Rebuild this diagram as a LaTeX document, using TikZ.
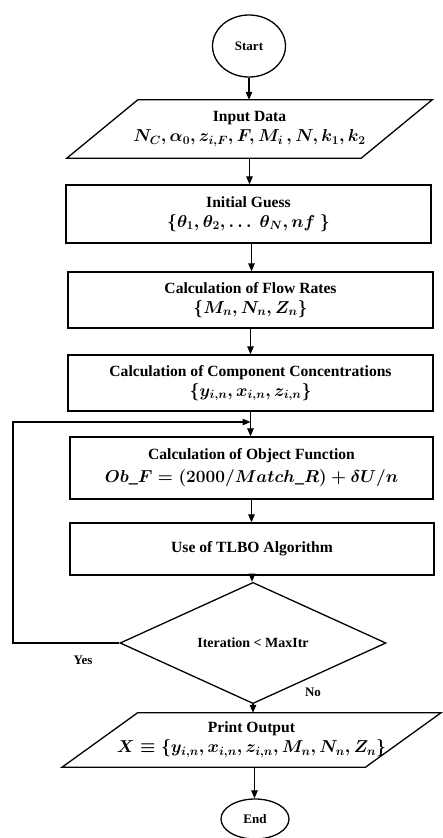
\documentclass[tikz,border=0pt]{standalone}
\usepackage{fontspec}
\setmainfont{Liberation Serif}
\usetikzlibrary{shapes.geometric,arrows.meta,calc}
\newcommand\mth[1]{{\fontsize{18}{20}\selectfont$#1$}}
\begin{document}
\begin{tikzpicture}[x=1pt,y=-1pt,
  every node/.style={font=\fontsize{15.6}{18}\selectfont\bfseries\boldmath},
  box/.style={draw,line width=1.3pt,minimum width=365pt,align=center,inner sep=2pt},
  io/.style={minimum width=294pt,align=center,inner sep=2pt},
  term/.style={draw,ellipse,line width=1.3pt,inner sep=0pt,font=\fontsize{13}{15}\selectfont\bfseries},
  arr/.style={line width=1.2pt,-{Triangle[length=8pt,width=6.5pt]}},
  lbl/.style={font=\fontsize{13}{15}\selectfont\bfseries}]
\useasboundingbox (0,0) rectangle (442,838);
\node[term,minimum width=73pt,minimum height=62pt] (start) at (249,46) {Start};
\node[io,minimum height=58pt] (input) at (249.5,129) {Input Data\\[2pt]\mth{N_C, \alpha_0, z_{i,F}, F, M_i\,, N, k_1, k_2}};
\draw[line width=1.3pt] ($(input.south west)+(-35.5,0)$) -- ($(input.north west)+(35.5,0)$) -- ($(input.north east)+(35.5,0)$) -- ($(input.south east)+(-35.5,0)$) -- cycle;
\node[box,minimum height=58pt] (guess) at (248.5,214) {Initial Guess\\[2pt]\mth{\{\theta_1, \theta_2, \ldots\ \theta_N, nf\ \}}};
\node[box,minimum height=56pt] (flow) at (250.5,300) {Calculation of Flow Rates\\[2pt]\mth{\{M_n, N_n, Z_n\}}};
\node[box,minimum height=56pt] (conc) at (250.5,383) {Calculation of Component Concentrations\\[2pt]\mth{\{y_{i,n}, x_{i,n}, z_{i,n}\}}};
\node[box,minimum height=62pt,minimum width=363pt] (objf) at (251.5,468) {Calculation of Object Function\\[5pt]\mth{Ob\_F = (2000/Match\_R) + \delta U/n}};
\node[box,minimum height=52pt,minimum width=364pt] (tlbo) at (252,549) {Use of TLBO Algorithm};
\node[draw,diamond,line width=1.3pt,minimum width=266pt,minimum height=88pt,inner sep=0pt,font=\fontsize{14}{16}\selectfont\bfseries] (dia) at (253,643) {Iteration < MaxItr};
\node[io,minimum width=303pt,minimum height=54pt] (print) at (251.5,740) {Print Output\\[2pt]\mth{X \equiv \{y_{i,n}, x_{i,n}, z_{i,n}, M_n, N_n, Z_n\}}};
\draw[line width=1.3pt] ($(print.south west)+(-37.75,0)$) -- ($(print.north west)+(37.75,0)$) -- ($(print.north east)+(37.75,0)$) -- ($(print.south east)+(-37.75,0)$) -- cycle;
\node[term,minimum width=68pt,minimum height=40pt] (end) at (255,819) {End};
\coordinate (gs) at ($(guess.south)+(3,0)$);
\coordinate (ps) at ($(print.south)+(3,0)$);
\draw[arr] (start.south) -- (start.south |- input.north);
\draw[arr] (input.south) -- (input.south |- guess.north);
\draw[arr] (gs) -- (gs |- flow.north);
\draw[arr] (flow.south) -- (flow.south |- conc.north);
\draw[arr] (conc.south) -- (conc.south |- objf.north);
\draw[arr] (objf.south) -- (objf.south |- tlbo.north);
\draw[arr] (tlbo.south) -- (tlbo.south |- dia.north);
\draw[arr] (dia.south) -- (dia.south |- print.north);
\draw[arr] (ps) -- (ps |- end.north);
\coordinate (lc) at (13,643);
\coordinate (j) at (250.5,422);
\draw[arr] (dia.west) -- (lc) |- (j);
\node[lbl] (yes) at (83,660) {Yes};
\node[lbl] (no) at (313,692) {No};
\end{tikzpicture}
\end{document}
